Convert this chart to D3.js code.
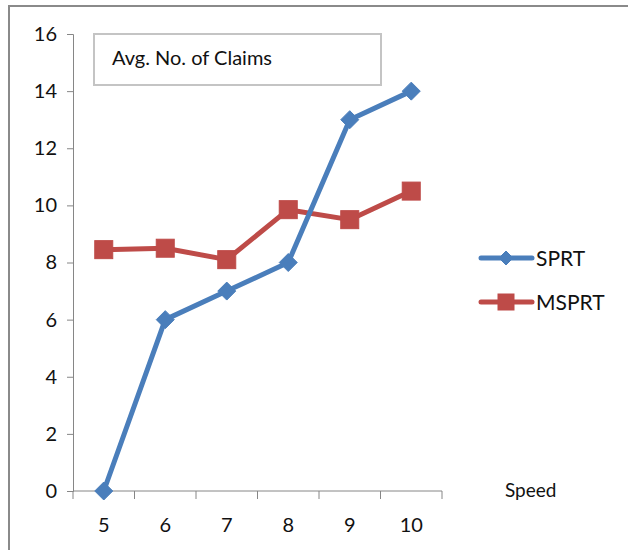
<!DOCTYPE html>
<html>
<head>
<meta charset="utf-8">
<script src="https://cdn.jsdelivr.net/npm/d3@7"></script>
<style>
  html, body { margin: 0; padding: 0; background: #fff; }
  svg { display: block; font-family: Lato, "Open Sans", sans-serif; }
</style>
</head>
<body>
<svg id="chart" width="628" height="550"></svg>
<script>
// Average number of claims by speed for two sequential tests
const speeds = ["5", "6", "7", "8", "9", "10"];
const sprt = [0, 6, 7, 8, 13, 14];
const msprt = [8.45, 8.5, 8.1, 9.85, 9.5, 10.5];
const yTicks = [0, 2, 4, 6, 8, 10, 12, 14, 16];
const seriesNames = ["SPRT", "MSPRT"];
const seriesColors = ["#4A7EBB", "#BE4B48"];

const svg = d3.select("#chart");

// outer frame (only top and left edges fall inside the page)
svg.append("path")
  .attr("d", "M9,551 L9,6 L629,6")
  .attr("fill", "none")
  .attr("stroke", "#8a8a8a")
  .attr("stroke-width", 2);

const x = d3.scaleBand().domain(speeds).range([73, 442]);
const y = d3.scaleLinear().domain([0, 16]).range([491, 34]);

// y axis
const yAxis = svg.append("g")
  .attr("transform", "translate(73,0)")
  .call(d3.axisLeft(y).tickValues(yTicks).tickSize(6).tickPadding(10));
yAxis.select(".domain").attr("stroke", "#868686").attr("stroke-width", 1);
yAxis.selectAll(".tick line").attr("stroke", "#868686");
yAxis.selectAll(".tick text")
  .attr("font-size", 20).attr("fill", "#111").attr("font-family", "Lato, sans-serif");

// x axis with ticks between categories
const xAxis = svg.append("g").attr("transform", "translate(0,491)");
xAxis.append("line")
  .attr("x1", 73).attr("x2", 442).attr("y1", 0).attr("y2", 0)
  .attr("stroke", "#868686");
const boundaries = speeds.map(s => x(s)).concat([x(speeds[speeds.length - 1]) + x.bandwidth()]);
xAxis.selectAll("line.tk").data(boundaries).join("line")
  .attr("class", "tk")
  .attr("x1", d => d).attr("x2", d => d)
  .attr("y1", 0).attr("y2", 8)
  .attr("stroke", "#868686");
xAxis.selectAll("text").data(speeds).join("text")
  .attr("x", d => x(d) + x.bandwidth() / 2)
  .attr("y", 41)
  .attr("text-anchor", "middle")
  .attr("font-size", 20)
  .attr("fill", "#111")
  .text(d => d);

// axis title
svg.append("text")
  .attr("x", 505).attr("y", 497)
  .attr("font-size", 19).attr("fill", "#111")
  .text("Speed");

// chart title box
svg.append("rect")
  .attr("x", 94).attr("y", 34).attr("width", 287).attr("height", 51)
  .attr("fill", "#fff").attr("stroke", "#c4c4c4").attr("stroke-width", 2);
svg.append("text")
  .attr("x", 112).attr("y", 65)
  .attr("font-size", 20).attr("fill", "#111")
  .text("Avg. No. of Claims");

const cx = d => x(d) + x.bandwidth() / 2;
const line = d3.line().x(d => cx(d.s)).y(d => y(d.v));

const diamond = (g, px, py, r, color) =>
  g.append("path")
    .attr("d", `M${px},${py - r} L${px + r},${py} L${px},${py + r} L${px - r},${py} Z`)
    .attr("fill", color).attr("stroke", color).attr("stroke-width", 1).attr("stroke-linejoin", "round");
const square = (g, px, py, h, color) =>
  g.append("rect")
    .attr("x", px - h).attr("y", py - h).attr("width", 2 * h).attr("height", 2 * h)
    .attr("fill", color).attr("stroke", color).attr("stroke-width", 1);

const data = [sprt, msprt].map(vals => speeds.map((s, i) => ({ s, v: vals[i] })));

// MSPRT line first, SPRT drawn over it
const plot = svg.append("g");
[1, 0].forEach(k => {
  plot.append("path")
    .datum(data[k])
    .attr("d", line)
    .attr("fill", "none")
    .attr("stroke", seriesColors[k])
    .attr("stroke-width", 5)
    .attr("stroke-linejoin", "round");
  data[k].forEach(d => {
    if (k === 0) diamond(plot, cx(d.s), y(d.v), 9, seriesColors[k]);
    else square(plot, cx(d.s), y(d.v), 9, seriesColors[k]);
  });
});

// legend
const legend = svg.append("g");
const legendY = [258, 302];
seriesNames.forEach((name, k) => {
  const ly = legendY[k];
  legend.append("line")
    .attr("x1", 481).attr("x2", 532).attr("y1", ly).attr("y2", ly)
    .attr("stroke", seriesColors[k]).attr("stroke-width", 5).attr("stroke-linecap", "round");
  if (k === 0) diamond(legend, 506, ly, 7, seriesColors[k]);
  else square(legend, 506, ly, 8, seriesColors[k]);
  legend.append("text")
    .attr("x", 536).attr("y", ly + 8)
    .attr("font-size", 21).attr("fill", "#111")
    .text(name);
});
</script>
</body>
</html>
